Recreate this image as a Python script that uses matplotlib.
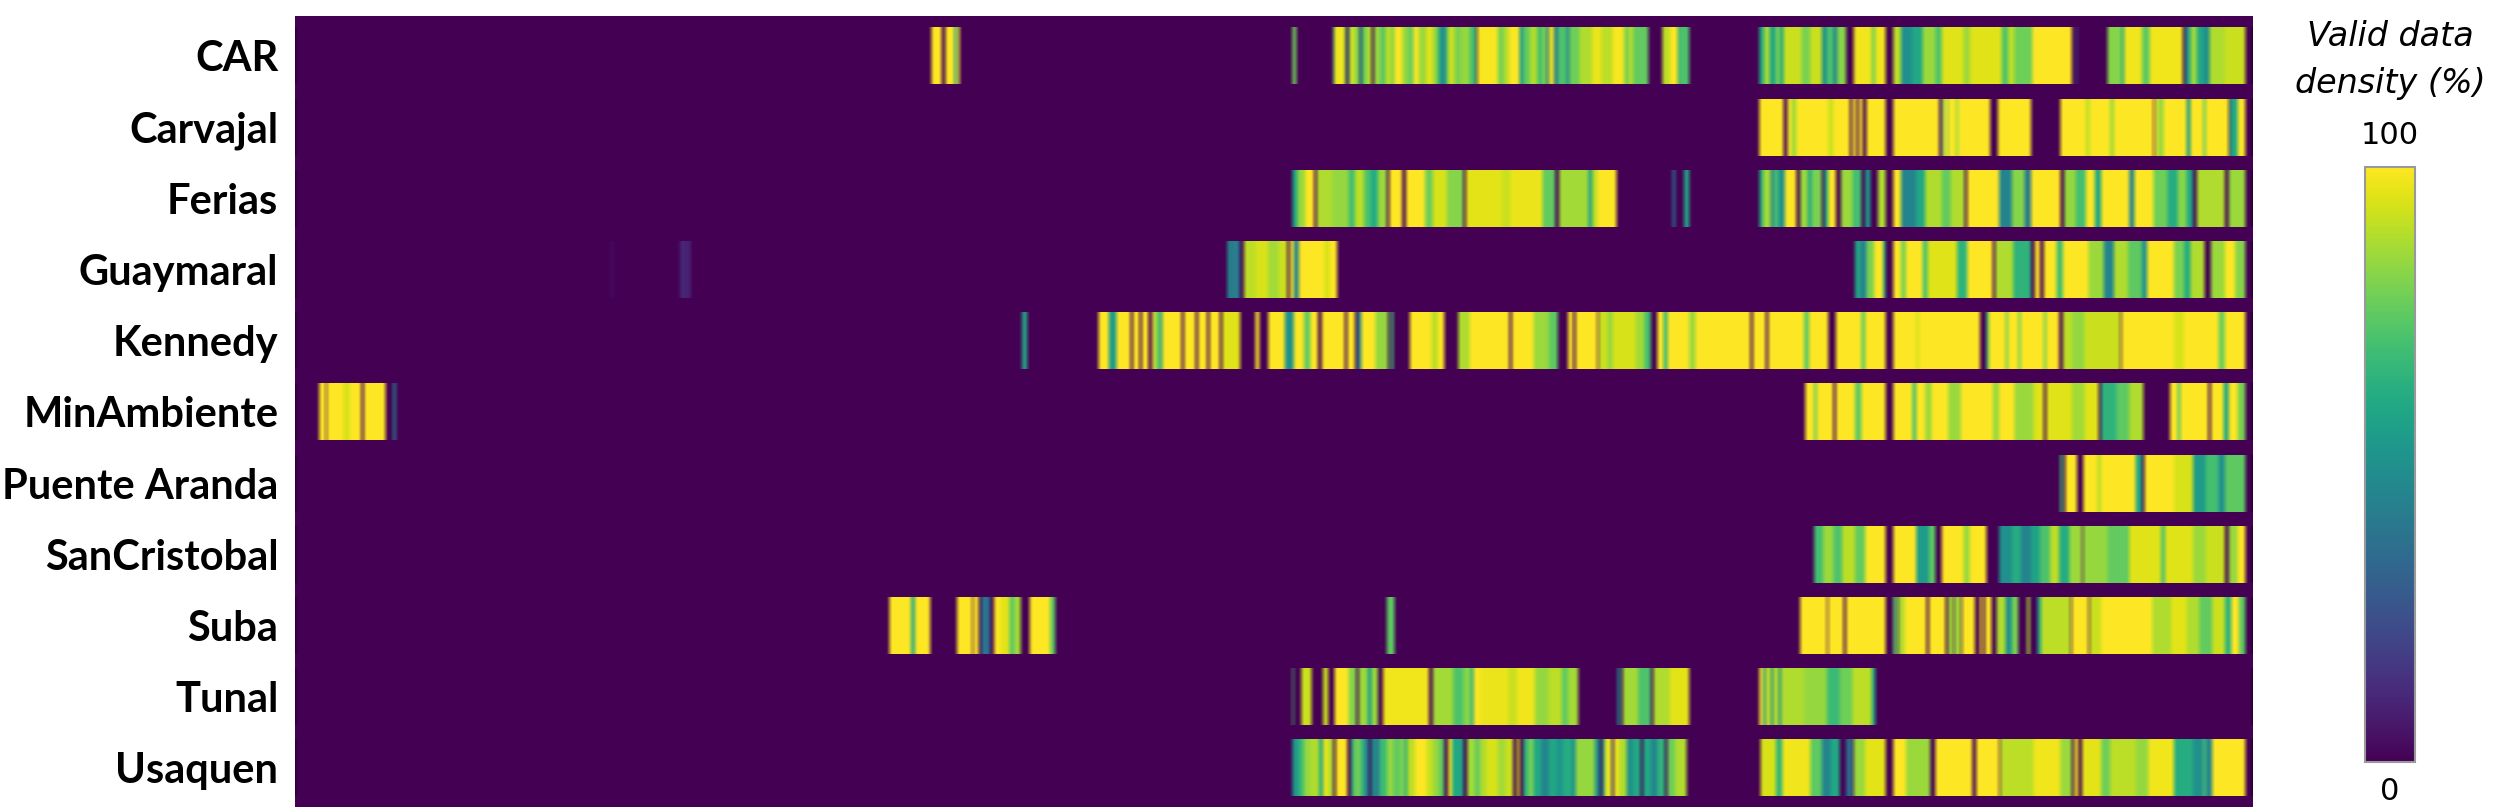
import matplotlib
matplotlib.use("Agg")
import matplotlib.pyplot as plt
import numpy as np
from matplotlib.cm import ScalarMappable
from matplotlib.colors import Normalize

# estacoes, de cima para baixo
estacoes = ["CAR", "Carvajal", "Ferias", "Guaymaral", "Kennedy", "MinAmbiente",
            "Puente Aranda", "SanCristobal", "Suba", "Tunal", "Usaquen"]

# (inicio do periodo, densidade %) -- cada valor vale ate o proximo inicio
car = [(-498, 100), (-483, 0), (-476, 100), (-463, 55), (-459, 100), (-454, 0),
       (67, 78), (74, 0), (131, 70), (133, 98), (149, 70), (152, 0), (155, 65), (157, 96), (163, 84), (171, 60), (173, 0), (175, 60), (177, 78), (183, 88), (192, 0),
       (195, 84), (205, 74), (214, 90), (222, 82), (227, 100), (239, 85), (248, 78), (257, 100), (266, 85), (277, 96), (287, 84), (296, 60), (301, 45), (308, 70), (311, 92), (322, 80), (332, 84), (345, 70), (355, 0),
       (358, 99), (389, 80), (399, 90), (408, 100), (423, 55), (429, 76), (440, 88), (452, 70), (460, 82), (465, 40), (470, 98), (478, 40), (483, 72), (497, 45), (502, 78), (518, 88), (538, 97), (552, 90), (570, 99), (587, 80), (595, 90), (601, 76), (625, 0),
       (647, 90), (659, 100), (672, 55), (674, 72), (690, 0),
       (800, 62), (808, 88), (815, 60), (825, 82), (832, 60), (838, 92), (865, 80), (880, 92), (897, 50), (905, 72), (915, 45), (922, 82), (935, 0),
       (947, 98), (975, 80), (982, 98), (997, 0),
       (1009, 90), (1022, 50), (1040, 60), (1055, 85), (1075, 72), (1085, 95), (1120, 85), (1130, 95), (1180, 72), (1190, 90), (1200, 78), (1228, 100), (1290, 0), (1295, 25), (1298, 0),
       (1345, 82), (1368, 60), (1372, 98), (1400, 75), (1412, 98), (1463, 0), (1467, 55), (1475, 85), (1485, 60), (1495, 50), (1505, 88), (1530, 92), (1562, 0)]
carvajal = [(800, 100), (838, 0), (844, 100), (850, 86), (858, 100), (908, 92), (915, 100), (942, 0), (945, 100), (952, 0), (955, 100), (962, 0), (967, 100), (997, 0),
            (1009, 100), (1081, 0), (1085, 50), (1087, 100), (1093, 70), (1096, 100), (1108, 85), (1112, 100), (1162, 0),
            (1173, 100), (1226, 0),
            (1271, 100), (1312, 90), (1318, 100), (1350, 85), (1355, 100), (1417, 0), (1420, 100), (1423, 85), (1433, 100), (1470, 55), (1475, 100), (1495, 75), (1500, 100), (1535, 0), (1538, 60), (1550, 100), (1562, 0)]
ferias = [(68, 60), (75, 85), (88, 100), (102, 0), (106, 88), (130, 84), (155, 70), (165, 90), (180, 72), (190, 62), (202, 85), (215, 0), (219, 100), (240, 0),
          (245, 100), (275, 78), (288, 94), (310, 82), (335, 0), (339, 96), (395, 92), (410, 97), (460, 76), (480, 0), (485, 86), (532, 58), (538, 90), (545, 100), (575, 0),
          (663, 40), (667, 0), (682, 60), (690, 0),
          (800, 60), (805, 86), (818, 40), (822, 70), (830, 50), (840, 100), (858, 0), (864, 85), (875, 60), (882, 80), (898, 0), (901, 60), (908, 100), (919, 0),
          (927, 85), (945, 70), (960, 0), (966, 55), (974, 0), (985, 88), (997, 0),
          (1009, 100), (1022, 45), (1045, 60), (1060, 88), (1085, 76), (1100, 88), (1122, 0), (1126, 100), (1175, 45), (1195, 82), (1215, 40), (1225, 100), (1271, 0),
          (1277, 84), (1295, 70), (1312, 100), (1325, 60), (1335, 100), (1380, 45), (1388, 100), (1418, 78), (1440, 62), (1455, 82), (1470, 60), (1480, 0), (1485, 88), (1530, 0), (1535, 85), (1562, 0)]
guaymaral = [(-1001, 6), (-998, 0), (-893, 12), (-885, 3), (-882, 12), (-876, 0),
             (-34, 50), (-28, 30), (-25, 55), (-21, 35), (-14, 0), (-9, 90), (10, 94), (30, 86), (45, 92), (60, 0), (63, 100), (70, 45), (77, 100), (118, 94), (125, 100), (138, 0),
             (950, 60), (958, 45), (968, 80), (980, 100), (993, 60), (997, 0),
             (1009, 100), (1022, 80), (1030, 100), (1055, 72), (1063, 95), (1110, 65), (1125, 100), (1165, 0), (1170, 88), (1198, 65), (1225, 0), (1231, 100), (1240, 0), (1245, 100), (1265, 70), (1275, 100), (1315, 85), (1340, 45), (1355, 88), (1378, 75), (1400, 50), (1408, 100), (1450, 80), (1465, 62), (1475, 88), (1497, 0),
             (1507, 85), (1530, 100), (1545, 82), (1562, 0)]
kennedy = [(-356, 60), (-349, 0),
           (-236, 100), (-221, 55), (-209, 100), (-186, 0), (-183, 100), (-173, 0), (-169, 100), (-158, 0), (-153, 100), (-148, 80), (-141, 55), (-136, 100), (-106, 0), (-103, 100), (-85, 0), (-81, 100), (-66, 0), (-63, 100), (-46, 0), (-43, 95), (-14, 0), (9, 100), (15, 0), (29, 100),
           (55, 50), (70, 100), (85, 76), (95, 100), (108, 0), (114, 100), (150, 0), (154, 100), (165, 0), (170, 45), (176, 100), (197, 84), (217, 0), (222, 70), (225, 0),
           (252, 100), (285, 90), (295, 100), (305, 0), (328, 88), (345, 100), (408, 0), (412, 100), (445, 85), (470, 75), (484, 0),
           (500, 100), (508, 0), (511, 100), (545, 0), (548, 92), (562, 84), (570, 94), (605, 86), (620, 70), (630, 0), (640, 100), (650, 65), (655, 100), (690, 85), (700, 100), (785, 0), (790, 100), (810, 0), (813, 100), (870, 75), (878, 100), (908, 0),
           (920, 100), (960, 75), (965, 100), (997, 0), (1009, 100), (1045, 92), (1050, 100), (1145, 0), (1155, 70), (1160, 100), (1185, 78), (1190, 100), (1205, 78), (1210, 100), (1245, 78), (1250, 100), (1270, 0), (1275, 90), (1290, 84), (1310, 92), (1365, 0), (1368, 100), (1450, 94), (1465, 100), (1520, 78), (1530, 100), (1562, 0)]
minambiente = [(-1458, 100), (-1449, 0), (-1446, 100), (-1420, 94), (-1410, 100), (-1393, 0), (-1389, 100), (-1354, 0), (-1343, 45), (-1339, 0),
               (871, 100), (885, 75), (890, 100), (916, 0), (920, 100), (950, 75), (960, 100), (997, 0),
               (1009, 100), (1040, 70), (1045, 100), (1060, 85), (1070, 100), (1095, 85), (1115, 100), (1165, 85), (1175, 100), (1200, 85), (1230, 95), (1245, 0), (1249, 95), (1290, 86), (1310, 95), (1331, 0), (1335, 65), (1360, 75), (1380, 88), (1401, 0),
               (1443, 100), (1455, 70), (1460, 100), (1503, 0), (1507, 100), (1527, 60), (1535, 100), (1550, 80), (1562, 0)]
puente = [(1271, 70), (1276, 0), (1280, 100), (1297, 0), (1308, 100), (1330, 90), (1335, 100), (1390, 60), (1400, 0), (1404, 100), (1450, 94), (1480, 55), (1500, 70), (1520, 50), (1530, 75), (1562, 0)]
sancristobal = [(885, 70), (900, 85), (915, 72), (930, 90), (950, 76), (965, 100), (997, 0),
                (1009, 100), (1045, 55), (1065, 75), (1076, 0), (1085, 100), (1120, 85), (1130, 100), (1155, 0),
                (1175, 50), (1195, 62), (1210, 45), (1225, 58), (1240, 72), (1255, 90), (1270, 62), (1285, 85), (1305, 0),
                (1308, 84), (1345, 76), (1380, 95), (1430, 70), (1435, 95), (1480, 85), (1500, 92), (1530, 0), (1535, 85), (1550, 100), (1562, 0)]
suba = [(-564, 100), (-531, 60), (-524, 100), (-501, 0), (-458, 100), (-434, 0), (-432, 100), (-425, 0), (-421, 38), (-407, 0), (-401, 100), (-391, 96), (-377, 75), (-369, 86), (-358, 0), (-344, 100), (-313, 75), (-305, 0),
        (215, 75), (227, 0),
        (863, 100), (905, 0), (908, 100), (932, 0), (936, 100), (997, 0), (1009, 75), (1015, 0), (1018, 88), (1027, 100), (1062, 0), (1066, 100), (1092, 0), (1095, 86), (1103, 0), (1106, 86), (1115, 0), (1118, 100), (1137, 0),
        (1145, 100), (1150, 0), (1153, 100), (1163, 0), (1171, 88), (1185, 50), (1195, 80), (1205, 0), (1219, 88), (1224, 0), (1236, 60), (1241, 90), (1287, 0), (1290, 100), (1316, 0), (1318, 92), (1335, 100), (1415, 88), (1445, 96), (1470, 88), (1490, 76), (1510, 92), (1530, 65), (1540, 100), (1552, 75), (1562, 0)]
tunal = [(67, 70), (70, 0), (82, 92), (98, 0), (116, 92), (123, 0), (133, 100), (155, 82), (168, 0), (172, 85), (185, 55), (192, 85), (202, 0),
         (210, 98), (282, 0), (287, 86), (320, 72), (335, 82), (348, 60), (352, 100), (362, 97), (405, 92), (420, 98), (448, 84), (470, 90), (490, 76), (500, 86), (515, 0),
         (577, 55), (582, 0), (586, 86), (610, 72), (630, 0), (634, 88), (660, 96), (690, 0),
         (800, 100), (806, 50), (810, 92), (818, 50), (822, 90), (830, 50), (834, 88), (870, 84), (905, 68), (925, 78), (945, 90), (975, 60), (982, 0)]
usaquen = [(67, 55), (78, 68), (86, 84), (96, 88), (110, 60), (115, 97), (124, 88), (131, 0), (136, 100), (153, 0), (159, 70), (167, 85), (172, 70), (180, 45), (188, 0),
           (192, 52), (198, 40), (203, 68), (215, 84), (226, 76), (238, 82), (243, 60), (247, 90), (259, 100), (277, 92), (287, 84), (298, 75), (306, 0), (311, 98), (318, 60), (336, 0),
           (342, 86), (353, 76), (362, 88), (371, 94), (390, 86), (402, 92), (413, 0), (419, 95), (424, 0),
           (429, 66), (438, 80), (445, 60), (457, 45), (470, 60), (481, 52), (492, 62), (505, 50), (512, 84), (541, 50), (549, 0), (553, 60), (558, 98), (567, 30), (570, 0), (572, 98), (580, 88), (591, 50), (602, 60), (614, 0),
           (617, 60), (630, 45), (640, 65), (651, 0), (656, 78), (668, 88), (685, 0),
           (802, 94), (825, 66), (835, 98), (880, 75), (897, 45), (912, 60), (925, 0), (935, 35), (945, 0), (947, 85), (965, 96), (997, 0),
           (1009, 100), (1030, 85), (1068, 0), (1076, 100), (1133, 0), (1140, 100), (1175, 0), (1178, 90), (1230, 98), (1272, 85), (1290, 0), (1294, 98), (1300, 0),
           (1305, 96), (1335, 78), (1350, 90), (1390, 84), (1410, 98), (1450, 62), (1480, 50), (1495, 72), (1500, 45), (1510, 100), (1562, 0)]

dados = [car, carvajal, ferias, guaymaral, kennedy, minambiente, puente, sancristobal, suba, tunal, usaquen]

W, H = 2500, 807
T0, T1 = -1497, 1573
passo = 2  # largura de uma coluna do raster
nucleo = np.array([1, 2, 2, 2, 1]) / 8  # borra as listras como no original
fig = plt.figure(figsize=(W / 100, H / 100), dpi=100)
fig.patch.set_facecolor("white")

ax = fig.add_axes([295 / W, 0, (2253 - 295) / W, (807 - 16) / H])
ax.set_facecolor(plt.get_cmap("viridis")(0.0))

viridis = plt.get_cmap("viridis")
centros = np.arange(T0 + passo / 2, T1, passo)
for i, serie in enumerate(dados):
    inicios = np.array([p[0] for p in serie])
    valores = np.array([p[1] for p in serie])
    # degraus -> linha de colunas; fora da serie fica 0
    idx = np.searchsorted(inicios, centros, side="right") - 1
    linha = np.where(idx >= 0, valores[np.clip(idx, 0, None)], 0)
    rgb = viridis(linha / 100)[:, :3]
    # mistura em RGB: listra fina entre amarelos fica marrom
    rgb = np.stack([np.convolve(rgb[:, c], nucleo, mode="same") for c in range(3)], axis=1)
    rgb = np.clip(rgb, 0, 1)
    ax.imshow(rgb[np.newaxis, :, :], aspect="auto", extent=[T0, T1, i + 0.4, i - 0.4],
              interpolation="bilinear")

ax.set_xlim(T0, T1)
ax.set_ylim(10.55, -0.56)
ax.set_xticks([])
ax.set_yticks(range(len(estacoes)))
ax.set_yticklabels(estacoes, fontfamily="Lato", fontweight="bold", fontsize=30)
ax.tick_params(axis="y", length=0, pad=12)
for lado in ax.spines.values():
    lado.set_visible(False)

# barra de cores
cax = fig.add_axes([2365 / W, (H - 762) / H, 50 / W, (762 - 167) / H])
cb = fig.colorbar(ScalarMappable(Normalize(0, 100), "viridis"), cax=cax)
cb.set_ticks([])
cb.outline.set_edgecolor("#999999")
cb.outline.set_linewidth(1.5)

fig.text(2390 / W, 1 - 36 / H, "Valid data", style="italic", fontsize=24, ha="center", va="center")
fig.text(2390 / W, 1 - 83 / H, "density (%)", style="italic", fontsize=24, ha="center", va="center")
fig.text(2390 / W, 1 - 135 / H, "100", fontsize=22, ha="center", va="center")
fig.text(2390 / W, 1 - 791 / H, "0", fontsize=22, ha="center", va="center")

fig.savefig("out.png", dpi=100)
